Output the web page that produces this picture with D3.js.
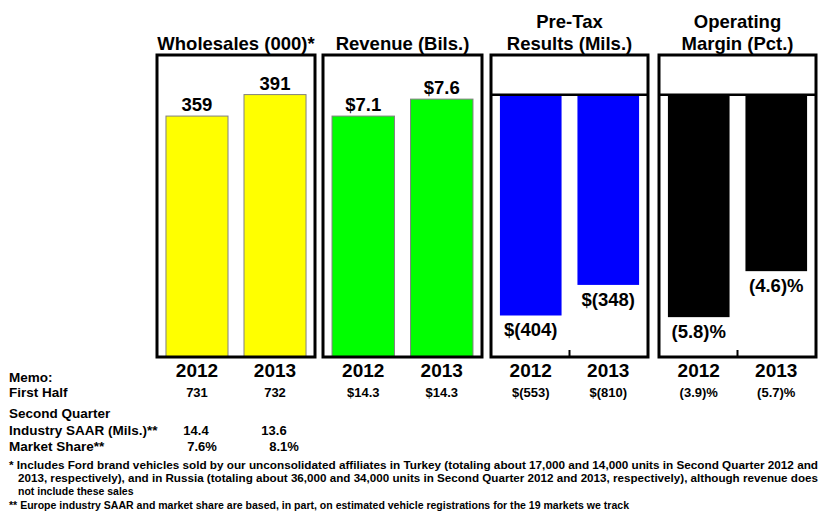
<!DOCTYPE html>
<html>
<head>
<meta charset="utf-8">
<script src="https://cdn.jsdelivr.net/npm/d3@7"></script>
<style>
  body { margin: 0; background: #fff; }
  text { font-family: "Liberation Sans", Arial, sans-serif; font-weight: bold; fill: #000; }
</style>
</head>
<body>
<svg id="chart" width="825" height="517"></svg>
<script>
// data
var years = ["2012", "2013"];
var titles = [["Wholesales (000)*"], ["Revenue (Bils.)"], ["Pre-Tax", "Results (Mils.)"], ["Operating", "Margin (Pct.)"]];
var wholesales = [359, 391];
var revenue = [7.1, 7.6];
var pretax = [-404, -348];
var margin = [-5.8, -4.6];
var valueLabels = [["359", "391"], ["$7.1", "$7.6"], ["$(404)", "$(348)"], ["(5.8)%", "(4.6)%"]];
var firstHalf = [["731", "732"], ["$14.3", "$14.3"], ["$(553)", "$(810)"], ["(3.9)%", "(5.7)%"]];
var saar = ["14.4", "13.6"];
var share = ["7.6%", "8.1%"];
var footnotes = [
  "* Includes Ford brand vehicles sold by our unconsolidated affiliates in Turkey (totaling about 17,000 and 14,000 units in Second Quarter 2012 and",
  "2013, respectively), and in Russia (totaling about 36,000 and 34,000 units in Second Quarter 2012 and 2013, respectively), although revenue does",
  "not include these sales",
  "** Europe industry  SAAR and market share are based, in part, on estimated vehicle registrations  for the 19 markets we track"
];

var panels = [
  { values: wholesales, domain: [0, 450], fill: "#ffff00", stroke: "#808080", x0: 157, x1: 315 },
  { values: revenue, domain: [0, 8.9], fill: "#00ff00", stroke: "#808080", x0: 323, x1: 482 },
  { values: pretax, domain: [-480, 73], fill: "#0000ff", stroke: "none", x0: 491, x1: 648 },
  { values: margin, domain: [-6.84, 1.04], fill: "#000000", stroke: "none", x0: 659, x1: 816 }
];

var plotTop = 55, plotBottom = 357;
var svg = d3.select("#chart");
svg.append("rect").attr("width", 825).attr("height", 517).attr("fill", "#fff");

panels.forEach(function(p, i) {
  var x = d3.scaleBand().domain(years).range([p.x0, p.x1]).paddingInner(0.205).paddingOuter(0.115);
  var y = d3.scaleLinear().domain(p.domain).range([plotBottom, plotTop]);
  var g = svg.append("g");

  g.selectAll("rect.bar")
    .data(p.values)
    .enter().append("rect")
    .attr("class", "bar")
    .attr("x", function(d, j) { return x(years[j]); })
    .attr("width", x.bandwidth())
    .attr("y", function(d) { return y(Math.max(0, d)); })
    .attr("height", function(d) { return Math.abs(y(d) - y(0)); })
    .attr("fill", p.fill)
    .attr("stroke", p.stroke)
    .attr("stroke-width", 1);

  // value labels: above positive bars, below negative ones
  g.selectAll("text.val")
    .data(p.values)
    .enter().append("text")
    .attr("class", "val")
    .attr("x", function(d, j) { return x(years[j]) + x.bandwidth() / 2; })
    .attr("y", function(d) { return d >= 0 ? y(d) - 5 : y(d) + 21; })
    .attr("text-anchor", "middle")
    .attr("font-size", 18.5)
    .text(function(d, j) { return valueLabels[i][j]; });

  if (p.domain[0] < 0) {
    g.append("line")
      .attr("x1", p.x0).attr("x2", p.x1)
      .attr("y1", y(0)).attr("y2", y(0))
      .attr("stroke", "#000").attr("stroke-width", 2.5);
    var mid = (p.x0 + p.x1) / 2;
    g.append("line")
      .attr("x1", mid).attr("x2", mid)
      .attr("y1", plotBottom).attr("y2", plotBottom - 7)
      .attr("stroke", "#000").attr("stroke-width", 2);
  }

  // frame
  g.append("rect")
    .attr("x", p.x0).attr("y", plotTop)
    .attr("width", p.x1 - p.x0).attr("height", plotBottom - plotTop)
    .attr("fill", "none").attr("stroke", "#000").attr("stroke-width", 3);

  // title
  var cx = (p.x0 + p.x1) / 2;
  titles[i].forEach(function(t, k) {
    g.append("text")
      .attr("x", cx)
      .attr("y", 50 - (titles[i].length - 1 - k) * 22)
      .attr("text-anchor", "middle")
      .attr("font-size", 18.5)
      .text(t);
  });

  // year labels
  g.selectAll("text.yr")
    .data(years)
    .enter().append("text")
    .attr("class", "yr")
    .attr("x", function(d) { return x(d) + x.bandwidth() / 2; })
    .attr("y", 377)
    .attr("text-anchor", "middle")
    .attr("font-size", 19)
    .text(function(d) { return d; });

  // memo first half
  g.selectAll("text.fh")
    .data(firstHalf[i])
    .enter().append("text")
    .attr("class", "fh")
    .attr("x", function(d, j) { return x(years[j]) + x.bandwidth() / 2; })
    .attr("y", 397)
    .attr("text-anchor", "middle")
    .attr("font-size", 13)
    .text(function(d) { return d; });

  if (i === 0) {
    svg.selectAll("text.saar")
      .data(saar)
      .enter().append("text")
      .attr("class", "saar")
      .attr("x", function(d, j) { return x(years[j]) + x.bandwidth() / 2 - 1; })
      .attr("y", 435)
      .attr("text-anchor", "middle")
      .attr("font-size", 13)
      .text(function(d) { return d; });
    svg.selectAll("text.share")
      .data(share)
      .enter().append("text")
      .attr("class", "share")
      .attr("x", function(d, j) { return x(years[j]) + x.bandwidth() / 2 + (j ? 9 : 5); })
      .attr("y", 451)
      .attr("text-anchor", "middle")
      .attr("font-size", 13)
      .text(function(d) { return d; });
  }
});

// memo row labels
var memoLabels = [["Memo:", 382], ["First Half", 397], ["Second Quarter", 418], ["Industry SAAR (Mils.)**", 435], ["Market Share**", 451]];
svg.selectAll("text.memo")
  .data(memoLabels)
  .enter().append("text")
  .attr("class", "memo")
  .attr("x", 9)
  .attr("y", function(d) { return d[1]; })
  .attr("font-size", 13.5)
  .text(function(d) { return d[0]; });

// footnotes
var fnY = [469, 482, 495, 509];
var fnX = [9, 18, 18, 9];
var fnW = [809, 800, null, 620];
footnotes.forEach(function(t, k) {
  var el = svg.append("text")
    .attr("x", fnX[k])
    .attr("y", fnY[k])
    .attr("font-size", 10.5)
    .style("font-family", "'Liberation Sans Narrow', 'Liberation Sans', Arial, sans-serif")
    .text(t);
  if (fnW[k]) el.attr("textLength", fnW[k]).attr("lengthAdjust", "spacingAndGlyphs");
});
</script>
</body>
</html>
